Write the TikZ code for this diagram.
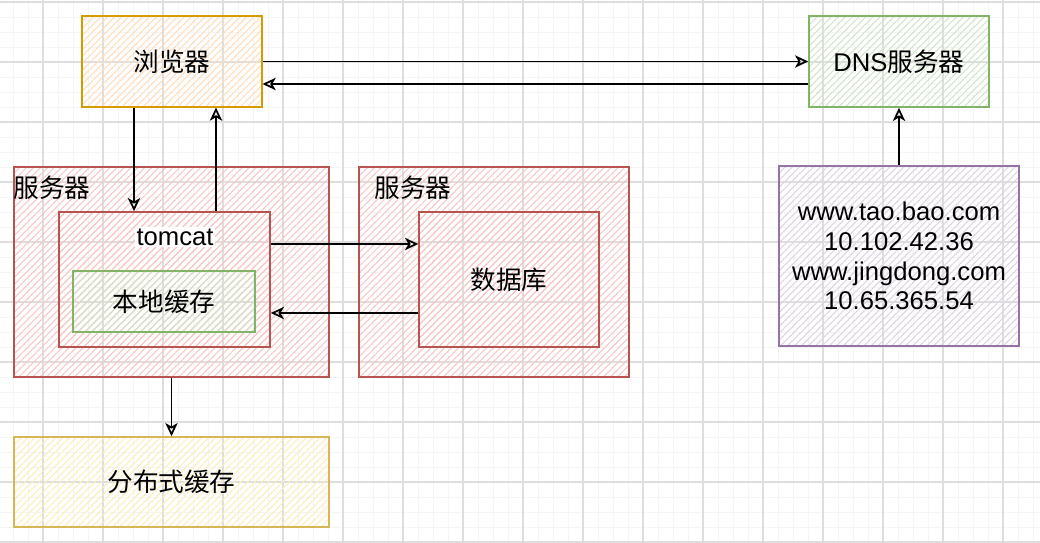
\documentclass[tikz,border=0pt]{standalone}
\usepackage{fontspec}
\setmainfont{Liberation Sans}
\newfontfamily\cjk{Noto Sans CJK SC}
\usetikzlibrary{patterns.meta,arrows.meta}
\definecolor{oS}{HTML}{D79B00}\definecolor{oH}{HTML}{FFDDBB}
\definecolor{rS}{HTML}{B85450}\definecolor{rH}{HTML}{F7C8C6}
\definecolor{gS}{HTML}{82B366}\definecolor{gH}{HTML}{D0E6C8}
\definecolor{pS}{HTML}{9673A6}\definecolor{pH}{HTML}{E0D3E6}
\definecolor{yS}{HTML}{D6B656}\definecolor{yH}{HTML}{FFEDBB}
\definecolor{gridminor}{HTML}{F5F5F5}\definecolor{gridmajor}{HTML}{DEDEDE}
\tikzset{
  box/.style={draw=#1S, line width=0.9pt, pattern={Lines[angle=45,distance=2.8pt,line width=0.6pt]}, pattern color=#1H, inner sep=0pt,
    font=\fontsize{14.6}{17}\selectfont, align=center},
  lbl/.style={font=\fontsize{14.6}{17}\selectfont, inner sep=0pt},
  arr/.style={line width=1pt, -{Stealth[open,length=7.5pt,width=7pt,inset=2pt]}},
  minorline/.style={gridminor, line width=0.5pt},
  majorline/.style={gridmajor, line width=0.6pt}
}
\begin{document}
\begin{tikzpicture}[x=0.02cm,y=-0.02cm]
\useasboundingbox (0,0) rectangle (1040,542);
\fill[white] (0,0) rectangle (1040,542);
\foreach \x in {13,28,...,1040} \draw[minorline] (\x,0) -- (\x,542);
\foreach \y in {2,17,...,542} \draw[minorline] (0,\y) -- (1040,\y);
\foreach \x in {43,103,...,1040} \draw[majorline] (\x,0) -- (\x,542);
\foreach \y in {2,62,...,542} \draw[majorline] (0,\y) -- (1040,\y);

\node[box=o, minimum width=3.6cm, minimum height=1.82cm] (b) at (172,61.5) {\cjk 浏览器};
\node[box=g, minimum width=3.6cm, minimum height=1.82cm] (dns) at (899,61.5) {DNS{\cjk 服务器}};
\node[box=r, minimum width=6.3cm, minimum height=4.2cm] (s1) at (171.5,272) {};
\node[lbl, anchor=west] (s1l) at (13,188) {\cjk 服务器};
\node[box=r, minimum width=4.22cm, minimum height=2.7cm] (tc) at (164.5,279.5) {};
\node[lbl, fill=white, inner sep=1pt] (tcl) at (175,237) {tomcat};
\node[box=g, minimum width=3.64cm, minimum height=1.22cm] (lc) at (164,301.5) {\cjk 本地缓存};
\node[box=r, minimum width=5.4cm, minimum height=4.2cm] (s2) at (494,272) {};
\node[lbl, anchor=west] (s2l) at (374,188) {\cjk 服务器};
\node[box=r, minimum width=3.6cm, minimum height=2.7cm] (db) at (509,279.5) {\cjk 数据库};
\node[box=p, minimum width=4.8cm, minimum height=3.6cm] (data) at (899,256) {www.tao.bao.com\\10.102.42.36\\www.jingdong.com\\10.65.365.54};
\node[box=y, minimum width=6.3cm, minimum height=1.8cm] (dist) at (171.5,482) {\cjk 分布式缓存};

\draw[arr] (b.east) -- (dns.west);
\coordinate (r1) at ([yshift=-0.45cm]dns.west);
\draw[arr] (r1) -- (r1 -| b.east);
\coordinate (p1) at ([xshift=-0.76cm]b.south);
\draw[arr] (p1) -- (p1 |- tc.north);
\coordinate (p2) at ([xshift=1.03cm]tc.north);
\draw[arr] (p2) -- (p2 |- b.south);
\coordinate (p3) at ([yshift=0.71cm]tc.east);
\draw[arr] (p3) -- (p3 -| db.west);
\coordinate (p4) at ([yshift=-0.67cm]db.west);
\draw[arr] (p4) -- (p4 -| tc.east);
\draw[arr] (s1.south) -- (dist.north);
\draw[arr] (data.north) -- (dns.south);
\end{tikzpicture}
\end{document}
